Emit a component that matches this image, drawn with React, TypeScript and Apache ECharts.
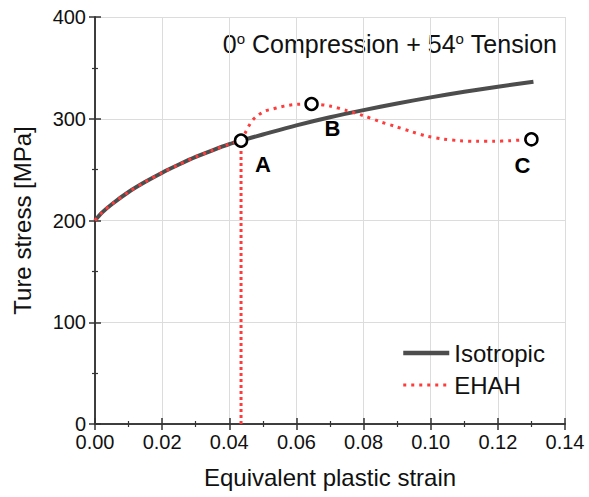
import React, { useEffect, useRef } from "react";
import * as echarts from "echarts";

const xTicks = [0, 0.02, 0.04, 0.06, 0.08, 0.1, 0.12, 0.14];
const yTicks = [0, 100, 200, 300, 400];

const isotropic: [number, number][] = [
  [0, 200], [0.002, 207.5], [0.005, 216], [0.01, 228], [0.015, 238], [0.02, 247],
  [0.025, 255], [0.03, 262.5], [0.035, 269], [0.04, 275], [0.0435, 278.5],
  [0.05, 284.5], [0.06, 293.5], [0.07, 301.5], [0.08, 308.5], [0.09, 315],
  [0.1, 321], [0.11, 326.5], [0.12, 331.5], [0.1306, 336.4],
];

const ehahPre: [number, number][] = [
  [0, 200], [0.002, 207.5], [0.005, 216], [0.01, 228], [0.015, 238], [0.02, 247],
  [0.025, 255], [0.03, 262.5], [0.035, 269], [0.04, 275], [0.0435, 278.5],
];

const ehahPost: [number, number][] = [
  [0.0435, 278.5], [0.0447, 285.7], [0.0457, 292.2], [0.047, 298.8], [0.0487, 303.7],
  [0.0506, 307.6], [0.0529, 309.6], [0.0551, 311.5], [0.0576, 313.2], [0.0601, 314.2],
  [0.0645, 314.5], [0.07, 312.5], [0.075, 308], [0.08, 303], [0.085, 297],
  [0.0894, 292.5], [0.0943, 287.3], [0.0988, 283], [0.1038, 280], [0.1087, 278.4],
  [0.1137, 277.8], [0.1187, 277.8], [0.1236, 278.4], [0.1266, 279], [0.13, 279.8],
];

const ehahDrop: [number, number][] = [
  [0.0435, 0], [0.0435, 278.5],
];

const markerNames = ["A", "B", "C"];
const markerX = [0.0435, 0.0645, 0.13];
const markerY = [278.5, 314.5, 279.8];

const FONT = "'Liberation Sans', Arial, sans-serif";
const GRAY = "#4d4d4d";
const RED = "#ff3b3b";

export default function App() {
  const ref = useRef<HTMLDivElement>(null);
  useEffect(() => {
    if (!ref.current) return;
    const chart = echarts.init(ref.current, undefined, { renderer: "svg" });
    const xMin = xTicks[0];
    const xMax = xTicks[xTicks.length - 1];
    const yMin = yTicks[0];
    const yMax = yTicks[yTicks.length - 1];
    const axisLine = { show: true, lineStyle: { color: "#333", width: 1.5 } };
    const tick = { show: true, inside: true, length: 6, lineStyle: { color: "#333", width: 1.5 } };
    const minor = { show: true, splitNumber: 2, length: -3, lineStyle: { color: "#333", width: 1.2 } };
    const labelOffsets: [number, number][] = [[22, 24], [21, 25], [-9, 26]];
    chart.setOption({
      animation: false,
      textStyle: { fontFamily: FONT },
      grid: { left: 95, top: 17, right: 24, bottom: 73, containLabel: false },
      legend: {
        data: [
          { name: "Isotropic", lineStyle: { width: 4.5 } },
          { name: "EHAH", lineStyle: { width: 3 } },
        ],
        orient: "vertical",
        left: 401,
        top: 341,
        padding: 0,
        itemWidth: 46,
        itemHeight: 14,
        itemGap: 8,
        itemTextGap: 8,
        itemStyle: { color: "rgba(0,0,0,0)", borderColor: "rgba(0,0,0,0)", borderWidth: 0 },
        textStyle: { fontSize: 24, color: "#111", fontFamily: FONT, lineHeight: 24 },
      },
      graphic: [
        {
          type: "text",
          x: 557,
          y: 44,
          style: {
            text: "{n|0}{s|o}{n| Compression + 54}{s|o}{n| Tension}",
            align: "right",
            verticalAlign: "middle",
            fill: "#111",
            rich: {
              n: { fontSize: 25, fontFamily: FONT, fill: "#111", lineHeight: 27 },
              s: { fontSize: 15, fontFamily: FONT, fill: "#111", lineHeight: 13, verticalAlign: "top" },
            },
          },
        },
      ],
      xAxis: [
        {
          type: "value",
          min: xMin,
          max: xMax,
          interval: 0.02,
          name: "Equivalent plastic strain",
          nameLocation: "middle",
          nameGap: 41,
          nameTextStyle: { fontSize: 24, color: "#111", fontFamily: FONT },
          axisLine,
          axisTick: tick,
          minorTick: minor,
          axisLabel: {
            fontSize: 20,
            color: "#111",
            margin: 8,
            formatter: (v: number) => v.toFixed(2),
          },
          splitLine: { show: true, lineStyle: { color: "#dcdcdc", width: 1 } },
        },
        {
          type: "value",
          position: "top",
          min: xMin,
          max: xMax,
          interval: 0.02,
          axisLine,
          axisTick: tick,
          minorTick: minor,
          axisLabel: { show: false },
          splitLine: { show: false },
        },
      ],
      yAxis: [
        {
          type: "value",
          min: yMin,
          max: yMax,
          interval: 100,
          name: "Ture stress [MPa]",
          nameLocation: "middle",
          nameGap: 61,
          nameTextStyle: { fontSize: 24, color: "#111", fontFamily: FONT },
          axisLine,
          axisTick: tick,
          minorTick: minor,
          axisLabel: { fontSize: 20, color: "#111", margin: 9 },
          splitLine: { show: true, lineStyle: { color: "#dcdcdc", width: 1 } },
        },
        {
          type: "value",
          position: "right",
          min: yMin,
          max: yMax,
          interval: 100,
          axisLine,
          axisTick: tick,
          minorTick: minor,
          axisLabel: { show: false },
          splitLine: { show: false },
        },
      ],
      series: [
        {
          name: "Isotropic",
          type: "line",
          data: isotropic,
          smooth: 0.3,
          symbol: "none",
          lineStyle: { color: GRAY, width: 4 },
          itemStyle: { color: GRAY },
          z: 2,
        },
        {
          name: "EHAH",
          type: "line",
          data: ehahPre,
          smooth: 0.3,
          symbol: "none",
          lineStyle: { color: RED, width: 3, type: [3, 5] },
          itemStyle: { color: RED },
          z: 3,
        },
        {
          name: "EHAH",
          type: "line",
          data: ehahPost,
          smooth: 0.3,
          symbol: "none",
          lineStyle: { color: RED, width: 3, type: [3, 5] },
          itemStyle: { color: RED },
          z: 3,
        },
        {
          name: "EHAH",
          type: "line",
          data: ehahDrop,
          symbol: "none",
          lineStyle: { color: RED, width: 3, type: [3, 3] },
          itemStyle: { color: RED },
          z: 3,
        },
        {
          name: "points",
          type: "scatter",
          symbol: "circle",
          symbolSize: 12,
          z: 5,
          itemStyle: { color: "#fff", borderColor: "#000", borderWidth: 2.5, opacity: 1 },
          data: markerNames.map((n, i) => ({
            name: n,
            value: [markerX[i], markerY[i]],
            label: {
              show: true,
              formatter: "{b}",
              position: "inside",
              offset: labelOffsets[i],
              fontSize: 22,
              fontWeight: "bold",
              color: "#000",
              fontFamily: FONT,
            },
          })),
        },
      ],
    });
    return () => chart.dispose();
  }, []);
  return (
    <div
      ref={ref}
      style={{ position: "absolute", left: 0, top: 0, width: 589, height: 497 }}
    />
  );
}
